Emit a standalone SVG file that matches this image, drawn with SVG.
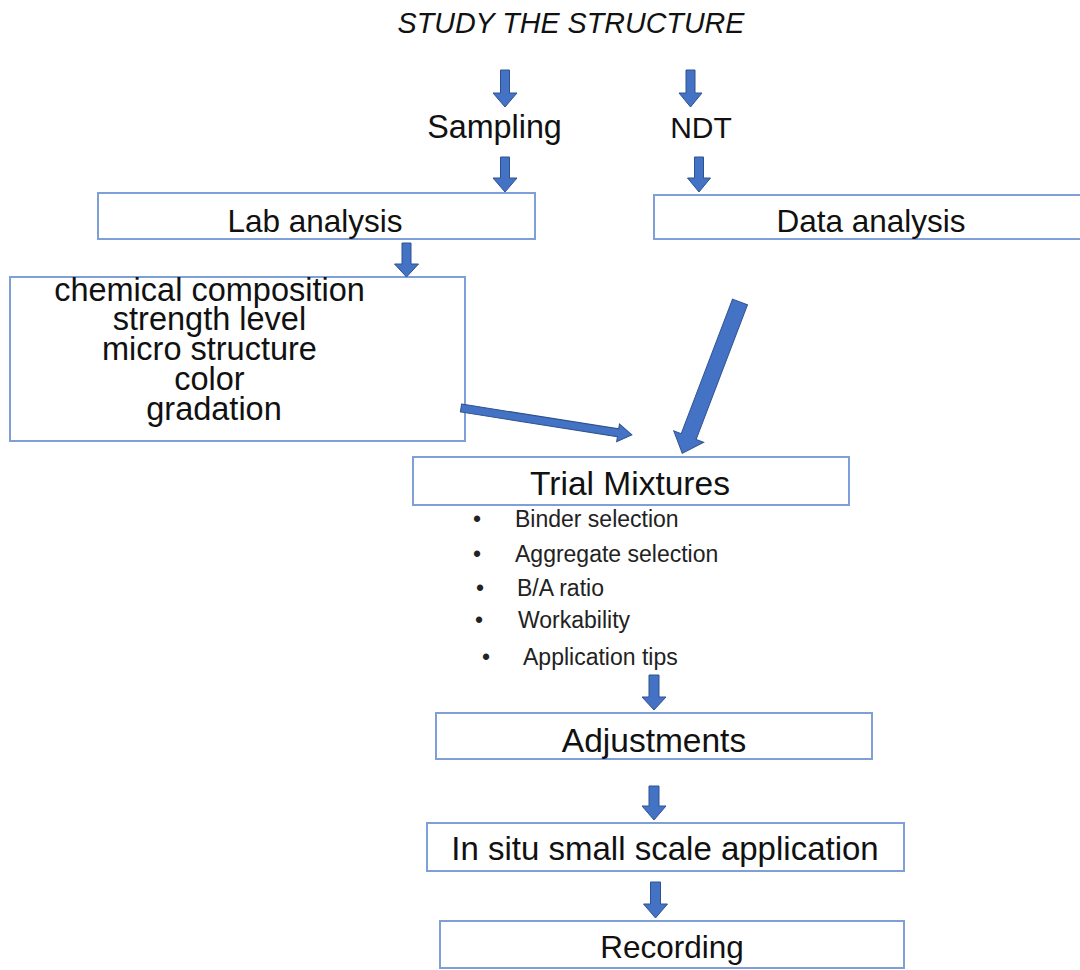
<svg xmlns="http://www.w3.org/2000/svg" width="1080" height="970" viewBox="0 0 1080 970">
<style>
.box{fill:#fff;stroke:#7F9FD8;stroke-width:2}
.arr{fill:#4472C4;stroke:#2F528F;stroke-width:1}
.t{font-family:"Liberation Sans",Arial,sans-serif;fill:#111;text-anchor:middle}
.b{font-family:"Liberation Sans",Arial,sans-serif;fill:#222;font-size:23px}
</style>
<rect width="1080" height="970" fill="#fff"/>
<g id="title"><text class="t" x="571" y="33" font-size="28.7" font-style="italic">STUDY THE STRUCTURE</text></g>
<g id="sampling"><text class="t" x="494.5" y="138" font-size="32.3">Sampling</text></g>
<g id="ndt"><text class="t" x="701" y="138" font-size="30">NDT</text></g>
<g id="lab-analysis"><rect class="box" x="98" y="193" width="437" height="46"/><text class="t" x="315" y="232" font-size="31.5">Lab analysis</text></g>
<g id="data-analysis"><rect class="box" x="654" y="195" width="440" height="44"/><text class="t" x="871" y="232" font-size="31.5">Data analysis</text></g>
<g id="properties"><rect class="box" x="10" y="277" width="455" height="164"/>
<text class="t" font-size="32.5">
<tspan x="214" y="301">chemical composition</tspan>
<tspan x="214" y="330">strength level</tspan>
<tspan x="214" y="360">micro structure</tspan>
<tspan x="214" y="390">color</tspan>
<tspan x="214" y="420">gradation</tspan>
</text></g>
<g id="trial-mixtures"><rect class="box" x="413" y="457" width="436" height="48"/><text class="t" x="630" y="495" font-size="33.5">Trial Mixtures</text>
<g class="b">
<text x="473" y="527">•</text><text x="515" y="527">Binder selection</text>
<text x="473" y="562">•</text><text x="515" y="562">Aggregate selection</text>
<text x="476" y="596">•</text><text x="517" y="596">B/A ratio</text>
<text x="475" y="628">•</text><text x="518" y="628">Workability</text>
<text x="482" y="665">•</text><text x="523" y="665">Application tips</text>
</g></g>
<g id="adjustments"><rect class="box" x="436" y="713" width="436" height="46"/><text class="t" x="654" y="752" font-size="33.5">Adjustments</text></g>
<g id="in-situ"><rect class="box" x="427" y="823" width="477" height="48"/><text class="t" x="665" y="860" font-size="33">In situ small scale application</text></g>
<g id="recording"><rect class="box" x="440" y="921" width="464" height="47"/><text class="t" x="672" y="958" font-size="31.5">Recording</text></g>
<g id="connectors">
<polygon class="arr" points="500.5,70 509.5,70 509.5,93 517,93 505,107 493,93 500.5,93"/>
<polygon class="arr" points="686,70 695,70 695,93 702,93 690.5,107 679,93 686,93"/>
<polygon class="arr" points="500.5,157 509.5,157 509.5,178 517,178 505,192 493,178 500.5,178"/>
<polygon class="arr" points="694.5,157 703.5,157 703.5,178 710.5,178 699,192 687.5,178 694.5,178"/>
<polygon class="arr" points="402,243 411,243 411,264 418.5,264 406.5,277 394.5,264 402,264"/>
<polygon class="arr" points="649,675 659,675 659,697 666,697 654,710 642,697 649,697"/>
<polygon class="arr" points="649,786 659,786 659,806 666,806 654,820 642,806 649,806"/>
<polygon class="arr" points="650.5,882 660.5,882 660.5,904 667.5,904 655.5,918 643.5,904 650.5,904"/>
<polygon class="arr" transform="translate(461,408) rotate(8.97)" points="0,-4 159,-4 159,-9 173,0 159,9 159,4 0,4"/>
<polygon class="arr" transform="translate(740,302) rotate(110.88)" points="0,-8 144,-8 144,-16 162,0 144,16 144,8 0,8"/>
</g>
</svg>
